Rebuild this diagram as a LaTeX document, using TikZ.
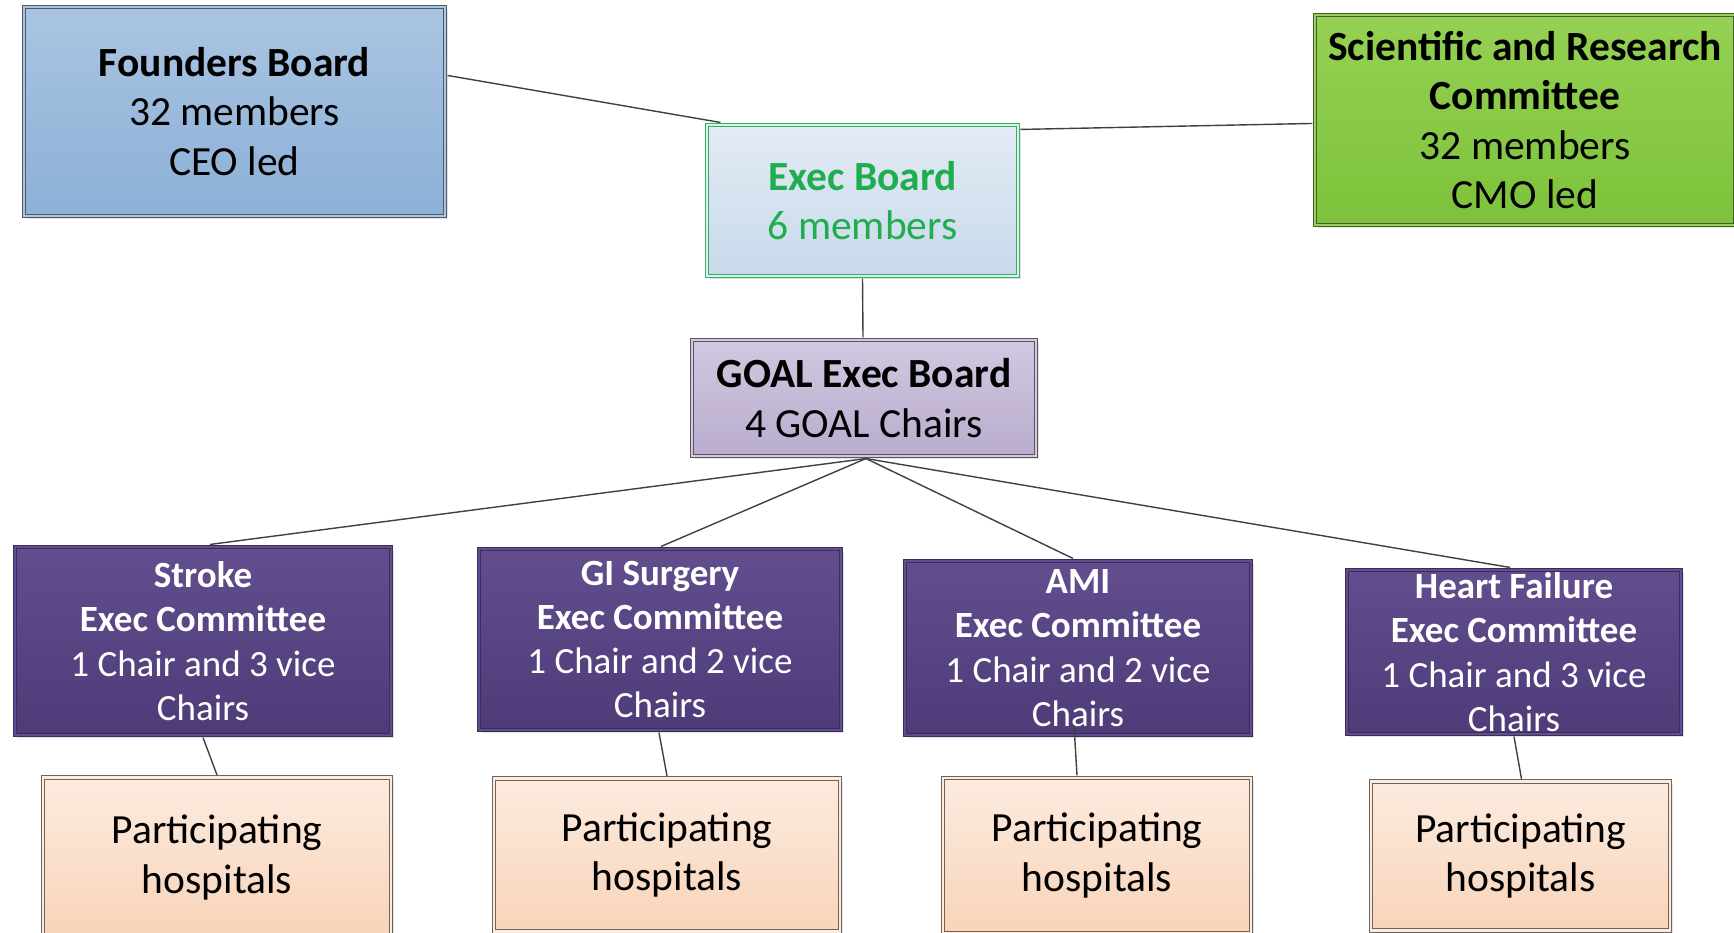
\documentclass[tikz,border=0pt]{standalone}
\usepackage{fontspec}
\setmainfont{Carlito}
\usetikzlibrary{calc,shadows}
\definecolor{lineclr}{HTML}{404040}
\definecolor{fbTop}{HTML}{AAC5E2}
\definecolor{fbBot}{HTML}{8CB0D7}
\definecolor{fbLine}{HTML}{505a66}
\definecolor{exTop}{HTML}{E3EBF4}
\definecolor{exBot}{HTML}{C8D9EB}
\definecolor{exLine}{HTML}{2DB35C}
\definecolor{exText}{HTML}{1FAE4E}
\definecolor{scTop}{HTML}{95D152}
\definecolor{scBot}{HTML}{7DC23A}
\definecolor{scLine}{HTML}{4A5A3A}
\definecolor{goTop}{HTML}{D2C8E0}
\definecolor{goBot}{HTML}{B9ACCE}
\definecolor{goLine}{HTML}{5A5560}
\definecolor{cmTop}{HTML}{624E8E}
\definecolor{cmBot}{HTML}{4E3B78}
\definecolor{cmLine}{HTML}{3A2D58}
\definecolor{hoTop}{HTML}{FCEBDF}
\definecolor{hoBot}{HTML}{F8D4B9}
\definecolor{hoLine}{HTML}{6E625A}
\begin{document}
\begin{tikzpicture}[x=1pt,y=-1pt,
  box/.style={rectangle, inner sep=0pt, align=center, line width=1.1pt,
    double distance=2.6pt,
    drop shadow={opacity=0.22, shadow xshift=3pt, shadow yshift=-3pt}},
  conn/.style={draw=lineclr, line width=1.4pt},
  bigtxt/.style={font=\fontsize{41.5}{49.5}\selectfont},
  comtxt/.style={font=\fontsize{37}{44.3}\selectfont, text=white},
  hosptxt/.style={font=\fontsize{41.5}{49.5}\selectfont},
  founderbox/.style={box, bigtxt, draw=fbLine, double=fbTop, top color=fbTop, bottom color=fbBot},
  execbox/.style={box, bigtxt, draw=exLine, double=exTop, top color=exTop, bottom color=exBot, text=exText},
  scibox/.style={box, bigtxt, draw=scLine, double=scTop, top color=scTop, bottom color=scBot},
  goalbox/.style={box, bigtxt, draw=goLine, double=goTop, top color=goTop, bottom color=goBot},
  combox/.style={box, comtxt, draw=cmLine, double=cmTop, top color=cmTop, bottom color=cmBot},
  hospbox/.style={box, hosptxt, draw=hoLine, double=hoTop, top color=hoTop, bottom color=hoBot}
]
\useasboundingbox[fill=white] (0,0) rectangle (1734,933);

\node[founderbox, minimum width=421, minimum height=209] (founders) at (234.5,111.5)
  {\textbf{Founders Board}\\32 members\\CEO led};
\node[execbox, minimum width=311, minimum height=151] (exec) at (862.5,200.5)
  {\textbf{Exec Board}\\6 members};
\node[scibox, minimum width=420, minimum height=210] (sci) at (1525,120)
  {\textbf{Scientific and Research}\\\textbf{Committee}\\32 members\\CMO led};
\node[goalbox, minimum width=344, minimum height=116] (goal) at (864,398)
  {\textbf{GOAL Exec Board}\\4 GOAL Chairs};

\node[combox, minimum width=376, minimum height=188] (stroke) at (203,641)
  {\textbf{Stroke}\\\textbf{Exec Committee}\\1 Chair and 3 vice\\Chairs};
\node[combox, minimum width=362, minimum height=181] (gi) at (660,639.5)
  {\textbf{GI Surgery}\\\textbf{Exec Committee}\\1 Chair and 2 vice\\Chairs};
\node[combox, minimum width=346, minimum height=174] (ami) at (1078,648)
  {\textbf{AMI}\\\textbf{Exec Committee}\\1 Chair and 2 vice\\Chairs};
\node[combox, minimum width=334, minimum height=164] (hf) at (1514,652)
  {\textbf{Heart Failure}\\\textbf{Exec Committee}\\1 Chair and 3 vice\\Chairs};

\node[hospbox, minimum width=348, minimum height=160] (h1) at (217,857.5)
  {Participating\\hospitals};
\node[hospbox, minimum width=346, minimum height=153] (h2) at (667,855)
  {Participating\\hospitals};
\node[hospbox, minimum width=308, minimum height=155] (h3) at (1097,855.5)
  {Participating\\hospitals};
\node[hospbox, minimum width=299, minimum height=149] (h4) at (1520.5,856)
  {Participating\\hospitals};

\coordinate (goalb) at ($(goal.south)+(2,2)$);
\draw[conn] ($(founders.north east)+(2,69)$) -- ($(exec.north west)+(14,-2)$);
\draw[conn] ($(exec.north east)+(2,5)$) -- ($(sci.north west)+(-2,109)$);
\draw[conn] ($(exec.south)+(0,2)$) -- ($(goal.north)+(-1,-2)$);
\draw[conn] (goalb) -- ($(stroke.north)+(7,-2)$);
\draw[conn] (goalb) -- ($(gi.north)+(1,-2)$);
\draw[conn] (goalb) -- ($(ami.north)+(-5,-2)$);
\draw[conn] (goalb) -- ($(hf.north)+(-4,-2)$);
\draw[conn] ($(stroke.south)+(0,2)$) -- ($(h1.north)+(0,-2)$);
\draw[conn] ($(gi.south)+(-1,2)$) -- ($(h2.north)+(0,-2)$);
\draw[conn] ($(ami.south)+(-4,-10)$) -- ($(h3.north)+(-20,-2)$);
\draw[conn] ($(hf.south)+(0,2)$) -- ($(h4.north)+(1,-2)$);
\end{tikzpicture}
\end{document}
